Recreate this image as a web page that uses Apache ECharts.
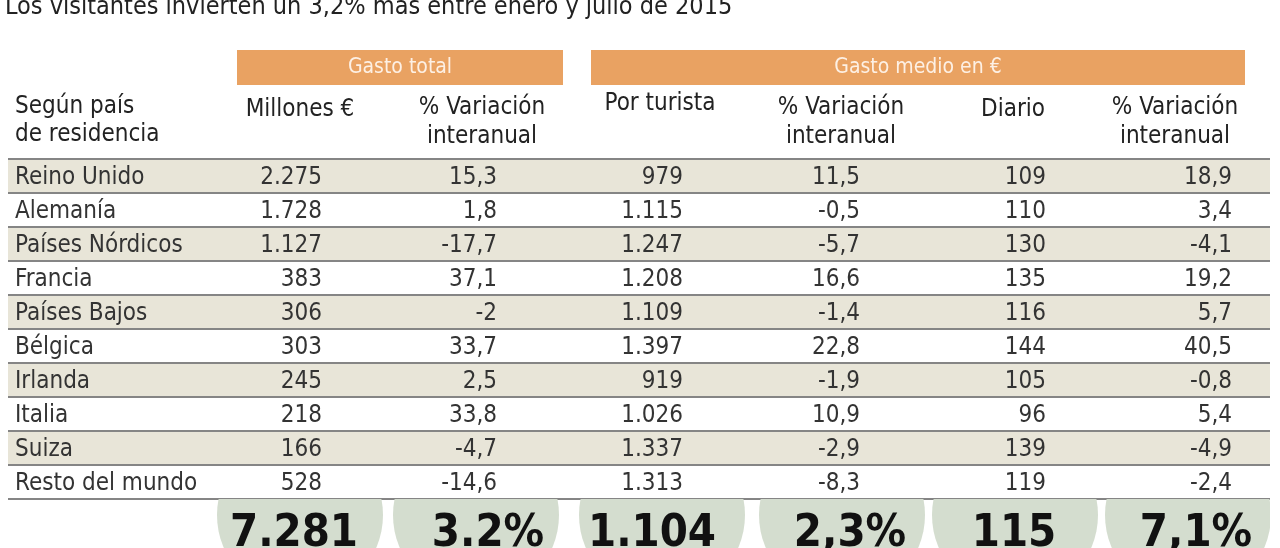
<!DOCTYPE html>
<html>
<head>
<meta charset="utf-8">
<script src="https://cdn.jsdelivr.net/npm/echarts@6/dist/echarts.min.js"></script>
<style>html,body{margin:0;padding:0;background:#fff;}#c{width:1280px;height:548px;}</style>
</head>
<body>
<div id="c"></div>
<script>
// ---- data ----
const titleText = 'Los visitantes invierten un 3,2% más entre enero y julio de 2015';
const groupHeaders = ['Gasto total', 'Gasto medio en €'];
const columnHeaders = [['Millones €'], ['% Variación', 'interanual'], ['Por turista'], ['% Variación', 'interanual'], ['Diario'], ['% Variación', 'interanual']];
const rowHeader = ['Según país', 'de residencia'];
const countries = ['Reino Unido', 'Alemanía', 'Países Nórdicos', 'Francia', 'Países Bajos', 'Bélgica', 'Irlanda', 'Italia', 'Suiza', 'Resto del mundo'];
const gastoTotal = [2275, 1728, 1127, 383, 306, 303, 245, 218, 166, 528];
const varTotal = [15.3, 1.8, -17.7, 37.1, -2, 33.7, 2.5, 33.8, -4.7, -14.6];
const porTurista = [979, 1115, 1247, 1208, 1109, 1397, 919, 1026, 1337, 1313];
const varTurista = [11.5, -0.5, -5.7, 16.6, -1.4, 22.8, -1.9, 10.9, -2.9, -8.3];
const diario = [109, 110, 130, 135, 116, 144, 105, 96, 139, 119];
const varDiario = [18.9, 3.4, -4.1, 19.2, 5.7, 40.5, -0.8, 5.4, -4.9, -2.4];
const totals = ['7.281', '3.2%', '1.104', '2,3%', '115', '7,1%'];

// ---- layout ----
const FONT = "'DejaVu Sans Condensed', 'Liberation Sans Narrow', 'DejaVu Sans', sans-serif";
const nameLeft = 15;
const colRight = [322, 497, 683, 860, 1046, 1232];
const colHeaderCenter = [300, 482, 660, 841, 1013, 1175];
const totalCenter = [294, 488, 652, 850, 1014, 1196];
const circleCenter = [300, 476, 662, 842, 1015, 1188];
const groupBoxes = [[237, 50, 326, 35], [591, 50, 654, 35]];

function fmtInt(v) { return String(v).replace(/\B(?=(\d{3})+(?!\d))/g, '.'); }
function fmtDec(v) { return String(v).replace('.', ','); }

const columns = [
  gastoTotal.map(fmtInt), varTotal.map(fmtDec),
  porTurista.map(fmtInt), varTurista.map(fmtDec),
  diario.map(fmtInt), varDiario.map(fmtDec)
];
const cells = [];
countries.forEach((c, r) => {
  cells.push({ value: [nameLeft, r], text: c, align: 'left' });
  columns.forEach((col, ci) => { cells.push({ value: [colRight[ci], r], text: col[r], align: 'right' }); });
});
const totalItems = totals.map((t, i) => ({ value: [circleCenter[i], 16], text: t, tx: totalCenter[i] }));

const graphics = [];
graphics.push({ type: 'text', left: 5, top: -5, style: { text: titleText, font: '25px ' + FONT, fill: '#222' } });
groupBoxes.forEach((b, i) => {
  graphics.push({ type: 'rect', shape: { x: b[0], y: b[1], width: b[2], height: b[3] }, style: { fill: '#e9a262' } });
  graphics.push({ type: 'text', x: b[0] + b[2] / 2, y: b[1] + b[3] / 2, style: { text: groupHeaders[i], font: '21px ' + FONT, fill: '#fdf0e4', align: 'center', verticalAlign: 'middle' } });
});
rowHeader.forEach((t, i) => {
  graphics.push({ type: 'text', x: 15, y: 107 + i * 28, style: { text: t, font: '24px ' + FONT, fill: '#222', align: 'left', verticalAlign: 'middle' } });
});
columnHeaders.forEach((lines, ci) => {
  const y0 = lines.length === 1 ? (ci === 2 ? 104 : 110) : 108;
  lines.forEach((t, li) => {
    graphics.push({ type: 'text', x: colHeaderCenter[ci], y: y0 + li * 29, style: { text: t, font: '24px ' + FONT, fill: '#222', align: 'center', verticalAlign: 'middle' } });
  });
});

const chart = echarts.init(document.getElementById('c'), null, { renderer: 'canvas' });
chart.setOption({
  animation: false,
  backgroundColor: '#ffffff',
  graphic: graphics,
  grid: [
    { left: 8, right: 10, top: 159, height: 340 },
    { left: 8, right: 10, top: 499, height: 49 }
  ],
  xAxis: [
    { type: 'value', gridIndex: 0, min: 8, max: 1270, show: false },
    { type: 'value', gridIndex: 1, min: 8, max: 1270, show: false }
  ],
  yAxis: [
    {
      type: 'category', gridIndex: 0, data: countries, inverse: true,
      axisLine: { show: false }, axisTick: { show: false }, axisLabel: { show: false },
      splitArea: { show: true, areaStyle: { color: ['#e8e5d8', '#ffffff'] } },
      splitLine: { show: true, showMinLine: true, showMaxLine: true, lineStyle: { color: '#858585', width: 2 } },
      z: 1
    },
    { type: 'value', gridIndex: 1, min: 0, max: 49, inverse: true, show: false }
  ],
  series: [
    {
      type: 'custom', xAxisIndex: 0, yAxisIndex: 0, data: cells, z: 5,
      renderItem: function (params, api) {
        const d = cells[params.dataIndex];
        const p = api.coord([api.value(0), api.value(1)]);
        return { type: 'text', x: p[0], y: p[1] + 1.5, style: { text: d.text, font: '24px ' + FONT, fill: '#333', align: d.align, verticalAlign: 'middle' } };
      }
    },
    {
      type: 'custom', xAxisIndex: 1, yAxisIndex: 1, data: totalItems, clip: true, z: 3,
      renderItem: function (params, api) {
        const d = totalItems[params.dataIndex];
        const p = api.coord([api.value(0), api.value(1)]);
        const t = api.coord([d.tx, 35]);
        const r = api.size([166, 0])[0] / 2;
        return {
          type: 'group', children: [
            { type: 'circle', shape: { cx: p[0], cy: p[1], r: r }, style: { fill: '#d4ddcf' } },
            { type: 'text', x: t[0], y: t[1], style: { text: d.text, font: 'bold 45px ' + FONT, fill: '#111', align: 'center', verticalAlign: 'middle' } }
          ]
        };
      }
    }
  ]
});
</script>
</body>
</html>
